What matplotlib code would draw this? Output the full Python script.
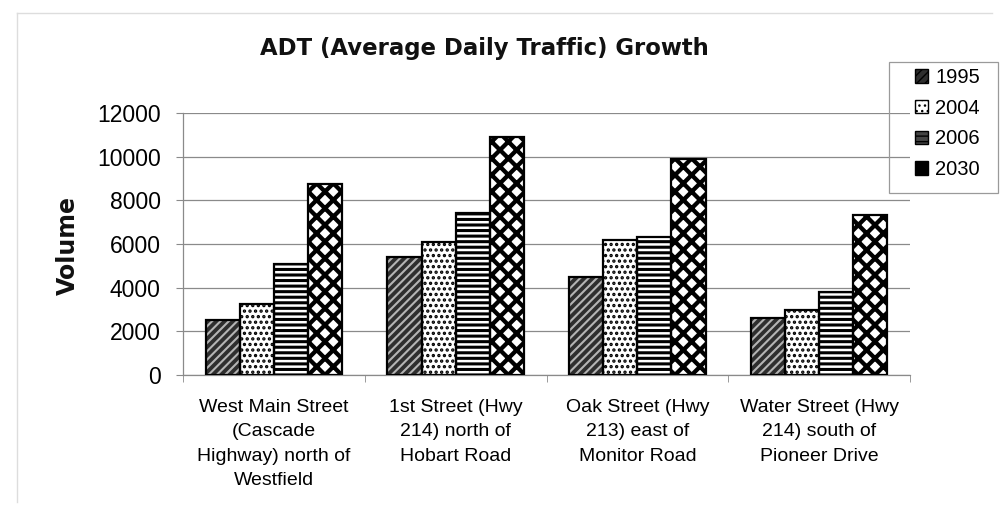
import matplotlib.pyplot as plt
import numpy as np
from matplotlib.lines import Line2D
from matplotlib.patches import Patch, Rectangle

# ADT counts per road segment
categories = [
    "West Main Street\n(Cascade\nHighway) north of\nWestfield",
    "1st Street (Hwy\n214) north of\nHobart Road",
    "Oak Street (Hwy\n213) east of\nMonitor Road",
    "Water Street (Hwy\n214) south of\nPioneer Drive",
]
years = ["1995", "2004", "2006", "2030"]
adt_1995 = [2500, 5400, 4500, 2600]
adt_2004 = [3250, 6100, 6200, 3000]
adt_2006 = [5100, 7400, 6300, 3800]
adt_2030 = [8750, 10900, 9900, 7350]
series = [adt_1995, adt_2004, adt_2006, adt_2030]
y_ticks = [0, 2000, 4000, 6000, 8000, 10000, 12000]

# (face, hatch colour, hatch, hatch linewidth)
styles = [
    ("#2e2e2e", "#b4b4b4", "////", 1.5),
    ("white", "black", "...", 1.6),
    ("white", "black", "---", 2.2),
    ("white", "black", "xx", 3.1),
]
legend_faces = ["#2e2e2e", "white", "#444444", "black"]

fig = plt.figure(figsize=(10.02, 5.12), dpi=100)
ax = fig.add_axes([183 / 1002, 1 - 375 / 512, 727 / 1002, 262 / 512])

x = np.arange(len(categories))
w = 0.75 / len(years)
for i, (vals, (face, hc, hatch, hlw)) in enumerate(zip(series, styles)):
    pos = x + (i - 1.5) * w
    bars = ax.bar(pos, vals, w, color=face, edgecolor=hc, hatch=hatch, lw=0, zorder=3)
    for p in bars:
        if hasattr(p, "set_hatch_linewidth"):
            p.set_hatch_linewidth(hlw)
    ax.bar(pos, vals, w, fill=False, edgecolor="black", lw=1.6, zorder=4)

ax.set_xlim(-0.5, len(categories) - 0.5)
ax.set_ylim(0, 12000)
ax.set_yticks(y_ticks)
ax.set_yticklabels([str(v) for v in y_ticks], fontsize=16.5, family="Liberation Sans")
ax.yaxis.grid(True, color="#8a8a8a", lw=0.9, zorder=0)
ax.tick_params(axis="y", length=5, color="#8a8a8a", pad=11)

ax.set_xticks(x)
ax.set_xticklabels(categories, fontsize=14, family="Liberation Sans", linespacing=1.55)
ax.set_xticks(np.arange(len(categories) + 1) - 0.5, minor=True)
ax.tick_params(axis="x", which="major", length=0, pad=17.5)
ax.tick_params(axis="x", which="minor", length=5, color="#8a8a8a")

for s in ["top", "right"]:
    ax.spines[s].set_visible(False)
for s in ["left", "bottom"]:
    ax.spines[s].set_color("#8a8a8a")
    ax.spines[s].set_linewidth(0.9)

fig.text(0.483, 0.906, "ADT (Average Daily Traffic) Growth", ha="center", va="center",
         fontsize=16.4, fontweight="bold", color="#111111")
fig.text(0.068, 0.52, "Volume", ha="center", va="center", rotation=90,
         fontsize=17, fontweight="bold", color="#111111")

# legend: frame drawn separately so the entries can sit off-centre
proxies = [Patch(facecolor=f, edgecolor="black", hatch=s[2], lw=1)
           for f, s in zip(legend_faces, styles)]
leg = fig.legend(proxies, years, loc="upper left", bbox_to_anchor=(911 / 1002, 1 - 64 / 512),
                 prop={"family": "Liberation Sans", "size": 14.5}, frameon=False,
                 handlelength=0.65, handleheight=0.65, handletextpad=0.35, labelspacing=0.58,
                 borderpad=0.2, borderaxespad=0)
fig.add_artist(Rectangle((889 / 1002, 1 - 193 / 512), 109 / 1002, 131 / 512,
                         transform=fig.transFigure, fill=False, edgecolor="#9a9a9a", lw=0.9))

# faint chart-area border
fig.add_artist(Line2D([17 / 1002, 17 / 1002], [1 - 13 / 512, 0.02], color="#dddddd", lw=1))
fig.add_artist(Line2D([17 / 1002, 0.99], [1 - 13 / 512, 1 - 13 / 512], color="#dddddd", lw=1))

fig.savefig("out.png", dpi=100)
